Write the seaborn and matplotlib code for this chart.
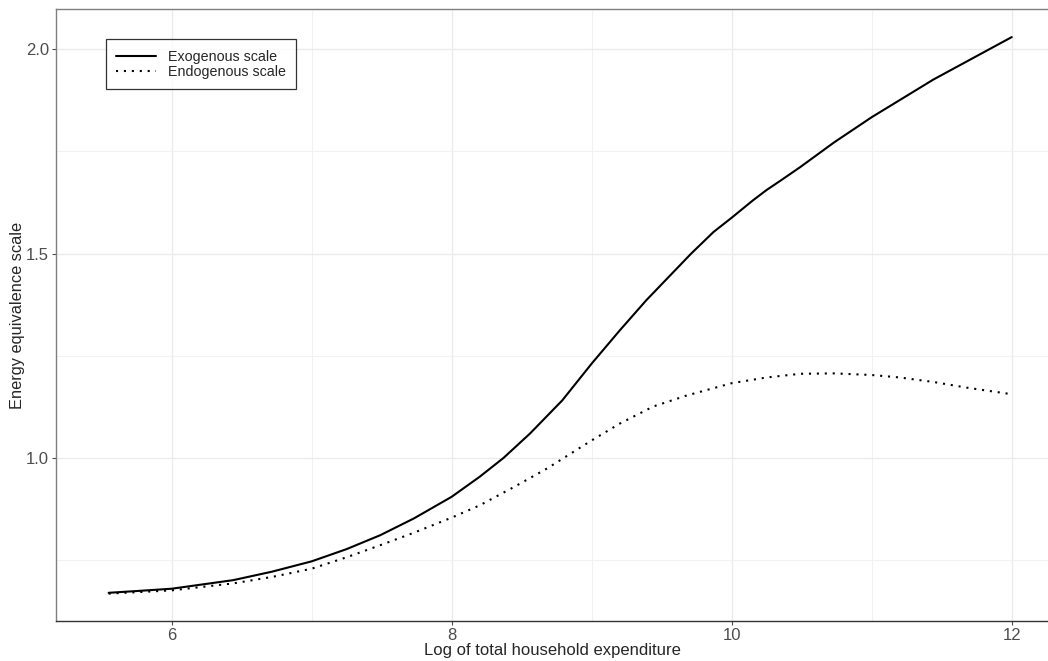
import pandas as pd
import matplotlib.pyplot as plt
from matplotlib.ticker import FixedLocator
import seaborn as sns

# values
exo_x = [5.55, 5.78, 6.0, 6.44, 6.72, 7.0, 7.25, 7.49, 7.73, 8.0, 8.2, 8.37, 8.56, 8.79,
         9.0, 9.2, 9.39, 9.55, 9.71, 9.87, 10.0, 10.15, 10.25, 10.35, 10.49, 10.73,
         11.0, 11.44, 11.72, 12.0]
exo_y = [0.670, 0.675, 0.680, 0.701, 0.722, 0.747, 0.777, 0.811, 0.852, 0.905, 0.954,
         1.000, 1.060, 1.141, 1.231, 1.312, 1.386, 1.443, 1.500, 1.553, 1.588, 1.630,
         1.656, 1.679, 1.712, 1.772, 1.834, 1.926, 1.978, 2.030]
endo_x = [5.55, 5.78, 6.0, 6.44, 6.72, 7.0, 7.25, 7.51, 7.73, 8.0, 8.2, 8.44, 8.68, 8.87,
          9.0, 9.2, 9.44, 9.68, 10.0, 10.25, 10.49, 10.73, 11.0, 11.2, 11.44, 11.68, 12.0]
endo_y = [0.668, 0.672, 0.676, 0.693, 0.709, 0.729, 0.757, 0.789, 0.817, 0.854, 0.884,
          0.928, 0.974, 1.015, 1.043, 1.084, 1.126, 1.153, 1.183, 1.197, 1.206, 1.207,
          1.203, 1.197, 1.186, 1.172, 1.156]
series_names = ["Exogenous scale", "Endogenous scale"]

df = pd.concat([
    pd.DataFrame({"x": exo_x, "y": exo_y, "scale": series_names[0]}),
    pd.DataFrame({"x": endo_x, "y": endo_y, "scale": series_names[1]}),
])

sns.set_style("white")
plt.rcParams["font.family"] = ["Liberation Sans", "DejaVu Sans"]

fig = plt.figure(figsize=(10.48, 6.61), dpi=100)
ax = fig.add_axes([56 / 1048, 1 - 621 / 661, 992 / 1048, (621 - 9.3) / 661])

sns.lineplot(data=df, x="x", y="y", style="scale", ax=ax, color="black",
             linewidth=1.5, sort=False, estimator=None,
             dashes={series_names[0]: "", series_names[1]: (1, 2.8)})

ax.set_xlim(5.174, 12.259)
ax.set_ylim(0.601, 2.098)
ax.xaxis.set_major_locator(FixedLocator([6, 8, 10, 12]))
ax.xaxis.set_minor_locator(FixedLocator([7, 9, 11]))
ax.yaxis.set_major_locator(FixedLocator([1.0, 1.5, 2.0]))
ax.yaxis.set_minor_locator(FixedLocator([0.75, 1.25, 1.75]))
ax.set_xticklabels(["6", "8", "10", "12"])
ax.set_yticklabels(["1.0", "1.5", "2.0"])
ax.grid(which="major", color="#EBEBEB", linewidth=1.0)
ax.grid(which="minor", color="#F2F2F2", linewidth=0.8)
ax.set_axisbelow(True)
ax.tick_params(which="major", length=3, width=0.8, color="#4D4D4D",
               labelsize=12, labelcolor="#4D4D4D", pad=2, bottom=True, left=True)
ax.tick_params(which="minor", length=0)

ax.spines["right"].set_visible(False)
ax.spines["left"].set_color("#7F7F7F")
ax.spines["top"].set_color("#7F7F7F")
ax.spines["bottom"].set_color("#333333")
for s in ax.spines.values():
    s.set_linewidth(1.0)

ax.set_xlabel("Log of total household expenditure", fontsize=12, labelpad=0)
ax.set_ylabel("Energy equivalence scale", fontsize=11.8, labelpad=0.8)

leg = ax.legend(loc="upper left", bbox_to_anchor=(0.0504, 0.951), frameon=True,
                fontsize=10.3, handlelength=2.8, labelspacing=0.08, borderpad=0.72,
                handletextpad=0.8, borderaxespad=0, fancybox=False, title=None)
leg.get_frame().set_edgecolor("black")
leg.get_frame().set_linewidth(0.9)

fig.savefig("out.png", dpi=100)
